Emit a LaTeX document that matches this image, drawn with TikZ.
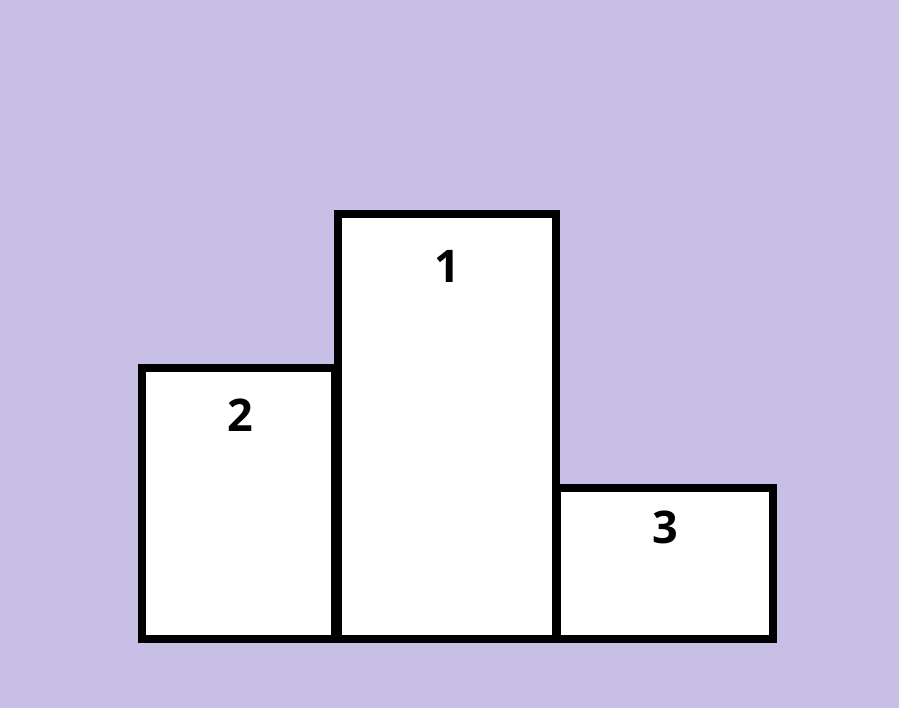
\documentclass[tikz,border=0pt]{standalone}
\usepackage{fontspec}
\setmainfont{Open Sans}
\usetikzlibrary{positioning}
\definecolor{podiumbg}{HTML}{C7BFE6}

\begin{document}
\begin{tikzpicture}[x=1pt, y=-1pt, line width=8pt]
    \fill[podiumbg] (0,0) rectangle (899,708);
    \useasboundingbox (0,0) rectangle (899,708);

    \filldraw[fill=white] (142,368) rectangle (335,639);
    \filldraw[fill=white] (338,214) rectangle (556,639);
    \filldraw[fill=white] (557,488) rectangle (773,639);

    \node[inner sep=0pt, font=\fontsize{45}{50}\selectfont\bfseries] (second) at (240,415) {2};
    \node[inner sep=0pt, font=\fontsize{45}{50}\selectfont\bfseries] (first) at (447,266) {1};
    \node[inner sep=0pt, font=\fontsize{45}{50}\selectfont\bfseries] (third) at (665,527) {3};
\end{tikzpicture}
\end{document}
